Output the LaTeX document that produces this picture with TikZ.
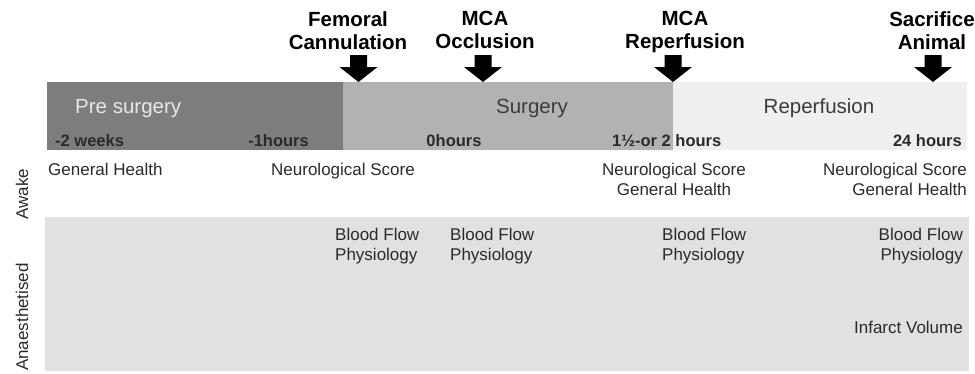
\documentclass[tikz,border=0pt]{standalone}
\usepackage{fontspec}
\setmainfont{Liberation Sans}
\definecolor{preC}{HTML}{7D7D7D}
\definecolor{surgC}{HTML}{B2B2B2}
\definecolor{repC}{HTML}{EFEFEF}
\definecolor{anaC}{HTML}{E1E1E1}
\definecolor{darktxt}{HTML}{2A2A2A}
\definecolor{phasetxt}{HTML}{3C3C3C}
\definecolor{pretxt}{HTML}{E8E8E8}
\begin{document}
\begin{tikzpicture}[x=1pt,y=-1pt,
  event/.style={font=\bfseries\fontsize{20.5}{23}\selectfont, align=center, anchor=north, inner sep=0pt, text=black},
  phase/.style={font=\fontsize{20.5}{24}\selectfont, anchor=base, inner sep=0pt},
  timelbl/.style={font=\bfseries\fontsize{16.5}{19}\selectfont, anchor=base, inner sep=0pt, text=darktxt},
  obs/.style={font=\fontsize{17}{20}\selectfont, inner sep=0pt, text=darktxt},
  side/.style={font=\fontsize{17}{20}\selectfont, rotate=90, inner sep=0pt, text=darktxt},
  bigarrow/.style={fill=black, draw=none}
]
\useasboundingbox (0,0) rectangle (975,373);
% background bands
\fill[preC]  (47,82) rectangle (343,150);
\fill[surgC] (343,82) rectangle (673,150);
\fill[repC]  (673,82) rectangle (967,150);
\fill[anaC]  (45,217) rectangle (969,371);

% event labels
\node[event] (fem) at (348,11.3) {Femoral\\Cannulation};
\node[event] (occ) at (485,11.3) {MCA\\Occlusion};
\node[event] (rep) at (685,11.3) {MCA\\Reperfusion};
\node[event] (sac) at (932,11.3) {Sacrifice\\Animal};

% arrows
\foreach \cx in {358.5,483,673,933}{
  \fill[bigarrow] (\cx-8.5,55) -- (\cx+8.5,55) -- (\cx+8.5,67) -- (\cx+19,67)
     -- (\cx,82) -- (\cx-19,67) -- (\cx-8.5,67) -- cycle;
}

% phase labels
\node[phase, anchor=base west, text=pretxt] (pre) at (75,113) {Pre surgery};
\node[phase, text=phasetxt] (surg) at (532,113) {Surgery};
\node[phase, text=phasetxt] (repf) at (819,113) {Reperfusion};

% time labels
\node[timelbl, anchor=base west] (t1) at (55,146) {-2 weeks};
\node[timelbl, anchor=base east] (t2) at (309,146) {-1hours};
\node[timelbl] (t3) at (454,146) {0hours};
\node[timelbl, anchor=base west] (t4) at (612,146) {1½-or 2 hours};
\node[timelbl, anchor=base east] (t5) at (962,146) {24 hours};

% awake observations
\node[obs, anchor=base west] (a1) at (48,175) {General Health};
\node[obs, anchor=base] (a2) at (343,175) {Neurological Score};
\node[obs, anchor=north, align=center] (a3) at (674,162.8) {Neurological Score\\General Health};
\node[obs, anchor=north east, align=right] (a4) at (967,162.8) {Neurological Score\\General Health};

% anaesthetised observations
\node[obs, anchor=north west, align=left] (b1) at (335,227.8) {Blood Flow\\Physiology};
\node[obs, anchor=north west, align=left] (b2) at (450,227.8) {Blood Flow\\Physiology};
\node[obs, anchor=north west, align=left] (b3) at (662,227.8) {Blood Flow\\Physiology};
\node[obs, anchor=north east, align=right] (b4) at (963,227.8) {Blood Flow\\Physiology};
\node[obs, anchor=base east] (b5) at (963,333) {Infarct Volume};

% side labels
\node[side] (awake) at (22,194) {Awake};
\node[side] (anaes) at (22,317) {Anaesthetised};
\end{tikzpicture}
\end{document}
